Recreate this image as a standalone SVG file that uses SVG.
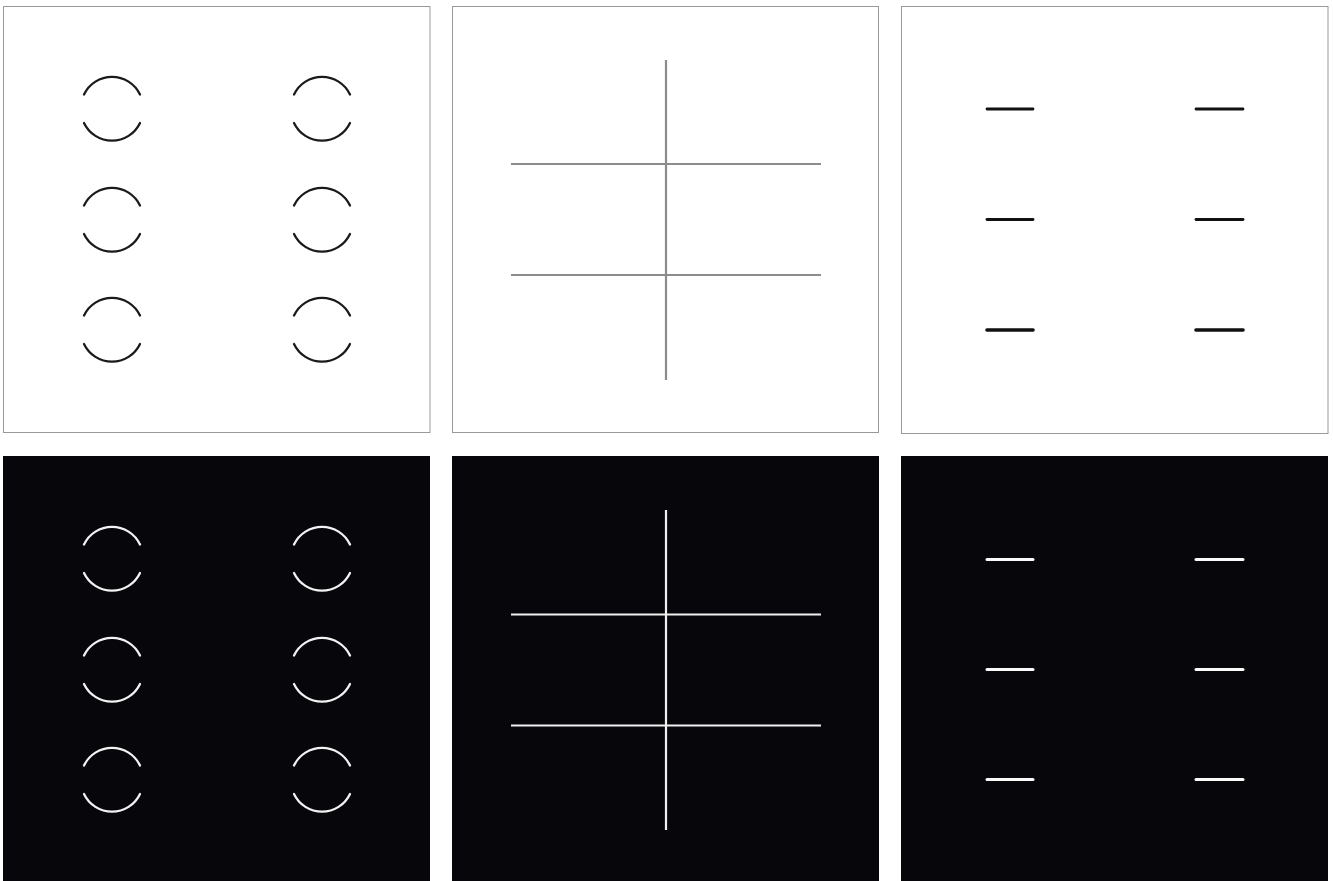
<svg xmlns="http://www.w3.org/2000/svg" width="1333" height="881" viewBox="0 0 1333 881">
<defs>
<style>
.wp{fill:#fff;stroke:#999;stroke-width:1}
.bp{fill:#07060b}
.arcK{fill:none;stroke:#1a1a1a;stroke-width:2.3;stroke-linecap:round}
.arcW{fill:none;stroke:#f2f2f2;stroke-width:2.3;stroke-linecap:round}
.lineG{stroke:#8c8c8c;stroke-width:2.2}
.lineW{stroke:#f0f0f0;stroke-width:2.2}
.dashK{stroke:#111;stroke-width:2.8;stroke-linecap:round}
.dashW{stroke:#fafafa;stroke-width:3;stroke-linecap:round}
</style>
<g id="pair">
<path d="M84,13.5 A31,31 0 0 1 140,13.5"/>
<path d="M84,42 A31,31 0 0 0 140,42"/>
</g>
</defs>
<rect width="1333" height="881" fill="#fff"/>
<g id="panel-top-left">
<rect class="wp" x="3.5" y="6.5" width="426.5" height="426"/>
<g class="arcK">
<use href="#pair" x="0" y="81"/><use href="#pair" x="210" y="81"/>
<use href="#pair" x="0" y="192"/><use href="#pair" x="210" y="192"/>
<use href="#pair" x="0" y="302"/><use href="#pair" x="210" y="302"/>
</g>
</g>
<g id="panel-top-middle">
<rect class="wp" x="452.5" y="6.5" width="426" height="426"/>
<line class="lineG" x1="666" y1="60" x2="666" y2="380"/>
<line class="lineG" x1="511" y1="164" x2="821" y2="164"/>
<line class="lineG" x1="511" y1="275" x2="821" y2="275"/>
</g>
<g id="panel-top-right">
<rect class="wp" x="901.5" y="6.5" width="426.5" height="427"/>
<line class="dashK" x1="987" y1="109" x2="1033" y2="109"/>
<line class="dashK" x1="1196" y1="109" x2="1243" y2="109"/>
<line class="dashK" x1="987" y1="219.5" x2="1033" y2="219.5"/>
<line class="dashK" x1="1196" y1="219.5" x2="1243" y2="219.5"/>
<line class="dashK" style="stroke-width:3.6" x1="987" y1="330" x2="1033" y2="330"/>
<line class="dashK" style="stroke-width:3.6" x1="1196" y1="330" x2="1243" y2="330"/>
</g>
<g id="panel-bottom-left">
<rect class="bp" x="3" y="456" width="427" height="425"/>
<g class="arcW">
<use href="#pair" x="0" y="531"/><use href="#pair" x="210" y="531"/>
<use href="#pair" x="0" y="642"/><use href="#pair" x="210" y="642"/>
<use href="#pair" x="0" y="752"/><use href="#pair" x="210" y="752"/>
</g>
</g>
<g id="panel-bottom-middle">
<rect class="bp" x="452" y="456" width="427" height="425"/>
<line class="lineW" x1="666" y1="510" x2="666" y2="830"/>
<line class="lineW" x1="511" y1="614.5" x2="821" y2="614.5"/>
<line class="lineW" x1="511" y1="725.5" x2="821" y2="725.5"/>
</g>
<g id="panel-bottom-right">
<rect class="bp" x="901" y="456" width="427" height="425"/>
<line class="dashW" x1="987" y1="559.5" x2="1033" y2="559.5"/>
<line class="dashW" x1="1196" y1="559.5" x2="1243" y2="559.5"/>
<line class="dashW" x1="987" y1="669.5" x2="1033" y2="669.5"/>
<line class="dashW" x1="1196" y1="669.5" x2="1243" y2="669.5"/>
<line class="dashW" x1="987" y1="779.5" x2="1033" y2="779.5"/>
<line class="dashW" x1="1196" y1="779.5" x2="1243" y2="779.5"/>
</g>
</svg>
